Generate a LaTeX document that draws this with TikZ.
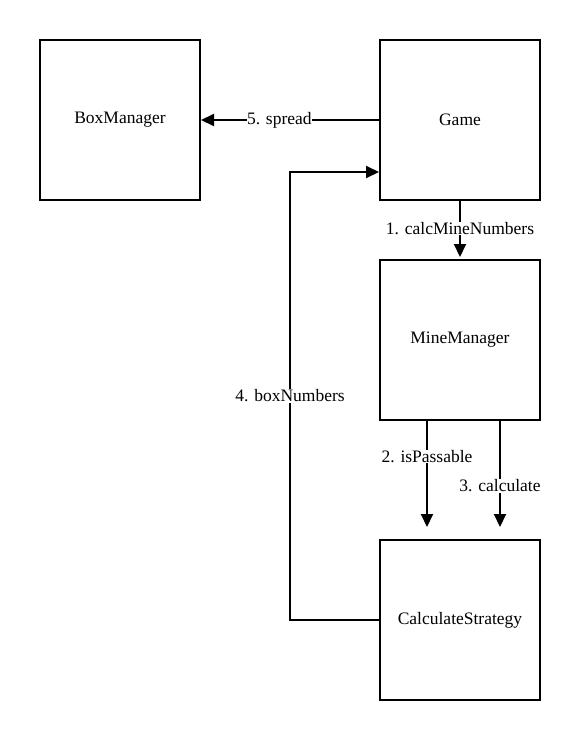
\documentclass[tikz,border=0pt]{standalone}
\usepackage{fontspec}
\setmainfont{Liberation Serif}
\usetikzlibrary{arrows.meta}
\begin{document}
\begin{tikzpicture}[x=1pt,y=-1pt,
  box/.style={draw,line width=2pt,minimum width=160pt,minimum height=160pt,inner sep=0pt,font=\fontsize{17.5pt}{20pt}\selectfont},
  conn/.style={line width=2pt,-{Triangle[length=13pt,width=12pt]}},
  lbl/.style={fill=white,inner sep=0.5pt,font=\fontsize{17.5pt}{20pt}\selectfont}]
\useasboundingbox (0,0) rectangle (581,740);
\node[box] (bm) at (120,120) {BoxManager};
\node[box] (game) at (460,120) {Game};
\node[box] (mm) at (460,340) {MineManager};
\node[box] (cs) at (460,620) {CalculateStrategy};
\draw[conn] (game.west) -- node[lbl,pos=0.56] {5. spread} (bm.east);
\draw[conn,shorten >=2pt] (game.south) -- node[lbl,pos=0.47] {1. calcMineNumbers} (mm.north);
\draw[conn,shorten >=12pt] (mm.south -| 427,0) -- node[lbl,pos=0.3] {2. isPassable} (cs.north -| 427,0);
\draw[conn,shorten >=12pt] (mm.south -| 500,0) -- node[lbl,pos=0.55] {3. calculate} (cs.north -| 500,0);
\coordinate (c1) at (290,620);
\coordinate (c2) at (290,172);
\draw[conn] (cs.west) -- (c1) -- node[lbl,pos=0.5] {4. boxNumbers} (c2) -- (game.west |- c2);
\end{tikzpicture}
\end{document}
